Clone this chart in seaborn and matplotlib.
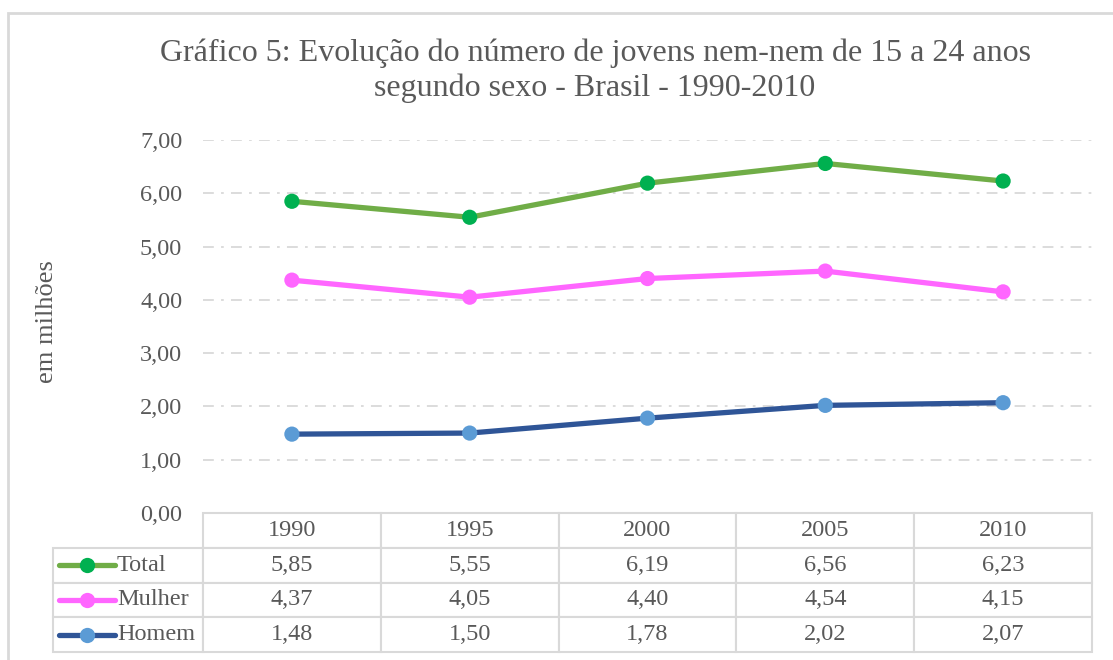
import numpy as np
import pandas as pd
import seaborn as sns
import matplotlib.pyplot as plt
from matplotlib.lines import Line2D
from matplotlib.patches import Rectangle

"""
data
"""
years = ['1990', '1995', '2000', '2005', '2010']
total = [5.85, 5.55, 6.19, 6.56, 6.23]
mulher = [4.37, 4.05, 4.40, 4.54, 4.15]
homem = [1.48, 1.50, 1.78, 2.02, 2.07]
series_names = ['Total', 'Mulher', 'Homem']
line_colors = ['#70ad47', '#ff66ff', '#2f5597']
marker_colors = ['#00b050', '#ff66ff', '#5b9bd5']
title = 'Gráfico 5: Evolução do número de jovens nem-nem de 15 a 24 anos\nsegundo sexo - Brasil - 1990-2010'

df = pd.DataFrame({'ano': years, 'Total': total, 'Mulher': mulher, 'Homem': homem})
long = df.melt(id_vars='ano', var_name='sexo', value_name='valor')

sns.set_theme(style='white')
plt.rcParams['font.family'] = ['Liberation Serif', 'DejaVu Serif']
txt = '#595959'
grid_c = '#d9d9d9'
fs = 17.5

fig = plt.figure(figsize=(11.13, 6.6), dpi=100)
# outer border of the chart area
fig.patches.append(Rectangle((8 / 1113, -0.01), 1.02, 1 - 13 / 660 + 0.01, transform=fig.transFigure,
                             fill=False, edgecolor=grid_c, linewidth=2))

ax = fig.add_axes([203 / 1113, 1 - 513 / 660, 889 / 1113, 373 / 660])
for name, lc in zip(series_names, line_colors):
    sub = long[long['sexo'] == name]
    sns.lineplot(data=sub, x='ano', y='valor', color=lc, linewidth=3.8, ax=ax, sort=False, zorder=3)
for name, mc in zip(series_names, marker_colors):
    sub = long[long['sexo'] == name]
    sns.scatterplot(data=sub, x='ano', y='valor', color=mc, s=120, edgecolor='none', ax=ax, zorder=4)

ax.set_xlim(-0.5, 4.5)
ax.set_ylim(0, 7)
ax.set_yticks(np.arange(0, 8, 1))
ax.set_yticklabels([f'{v:.2f}'.replace('.', ',') for v in np.arange(0, 8, 1)], fontsize=fs, color=txt)
ax.tick_params(axis='y', length=0, pad=15)
ax.set_xticks([])
ax.set_xlabel('')
ax.set_ylabel('')
for s in ax.spines.values():
    s.set_visible(False)
for v in range(1, 8):
    ax.axhline(v, color=grid_c, linewidth=1.3, linestyle=(0, (6, 4, 1.5, 4)), zorder=1)
ax.set_facecolor('none')

fig.text(47 / 1113, 1 - 322 / 660, 'em milhões', rotation=90, ha='center', va='center', fontsize=19, color=txt)
fig.text(595 / 1113, 1 - 71 / 660, title, ha='center', va='center', fontsize=23, color=txt, linespacing=1.25)

"""
data table under the plot
"""
tab = fig.add_axes([53 / 1113, 1 - 652 / 660, 1039 / 1113, 139 / 660])
tab.set_axis_off()
tab.patch.set_visible(False)
cells = [[''] + years]
for name, vals in zip(series_names, [total, mulher, homem]):
    cells.append([''] + [f'{v:.2f}'.replace('.', ',') for v in vals])
widths = [150 / 1039] + [177.8 / 1039] * 5
table = tab.table(cellText=cells, colWidths=widths, bbox=[0, 0, 1, 1], cellLoc='center')
table.auto_set_font_size(False)
for (r, c), cell in table.get_celld().items():
    cell.set_edgecolor(grid_c)
    cell.set_linewidth(1.5)
    cell.get_text().set_fontsize(fs)
    cell.get_text().set_color(txt)
table[0, 0].set_edgecolor('none')
table[0, 0].set_fill(False)

row_h = 1 / 4
for i, (name, lc, mc) in enumerate(zip(series_names, line_colors, marker_colors)):
    yc = 1 - row_h * (i + 1.5)
    tab.add_line(Line2D([6 / 1039, 62 / 1039], [yc, yc], color=lc, linewidth=3.8, transform=tab.transAxes))
    tab.add_line(Line2D([34 / 1039], [yc], marker='o', markersize=11, color=mc, markeredgewidth=0,
                        transform=tab.transAxes))
    tab.text(64 / 1039, yc, name, ha='left', va='center', fontsize=fs, color=txt, transform=tab.transAxes)

fig.savefig('out.png', dpi=100)
